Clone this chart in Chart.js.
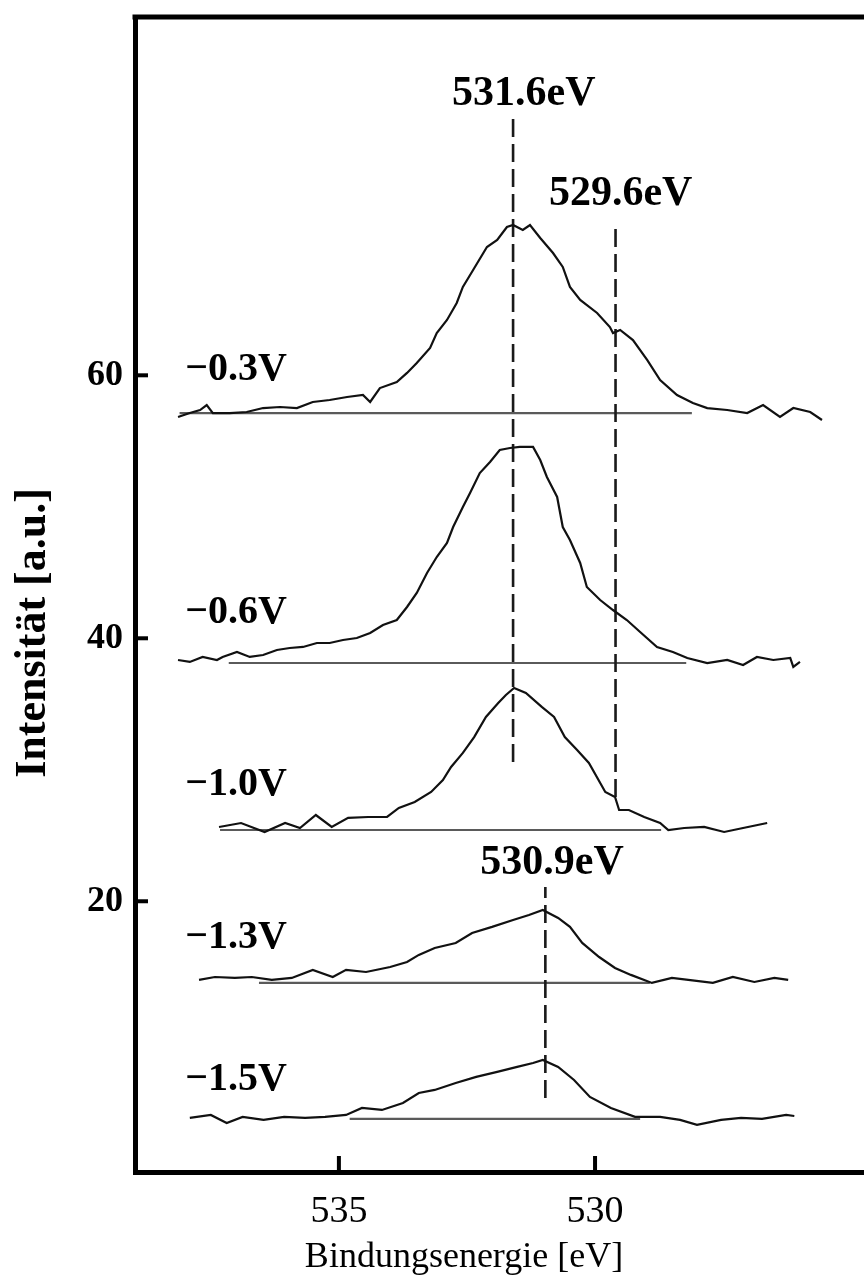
<!DOCTYPE html>
<html><head><meta charset="utf-8">
<script src="https://cdn.jsdelivr.net/npm/chart.js@4.4.1/dist/chart.umd.min.js"></script>
<style>html,body{margin:0;padding:0;background:#fff;overflow:hidden}canvas{display:block}</style>
</head><body>
<canvas id="c" width="864" height="1280"></canvas>
<script>
// ---- data ----
const curveLabels = ["−0.3V", "−0.6V", "−1.0V", "−1.3V", "−1.5V"];

const energyA = [538.14,537.91,537.71,537.58,537.46,537.13,536.80,536.48,536.15,535.82,535.51,535.18,534.84,534.53,534.39,534.20,533.87,533.67,533.48,533.22,533.09,532.89,532.70,532.58,532.38,532.11,531.91,531.72,531.60,531.41,531.27,531.07,530.82,530.63,530.49,530.29,529.96,529.71,529.65,529.51,529.26,528.98,528.73,528.40,528.09,527.81,527.42,527.03,526.72,526.39,526.13,525.80,525.57];
const intensityA = [56.83,57.13,57.36,57.74,57.13,57.13,57.21,57.51,57.59,57.51,57.97,58.12,58.35,58.50,57.97,59.03,59.49,60.18,60.94,62.08,63.22,64.21,65.50,66.72,68.01,69.76,70.29,71.28,71.43,71.05,71.43,70.44,69.30,68.24,66.72,65.73,64.74,63.67,63.22,63.45,62.68,61.16,59.64,58.50,57.89,57.51,57.36,57.13,57.74,56.83,57.51,57.21,56.60];

const energyB = [538.14,537.91,537.66,537.38,537.27,536.99,536.74,536.48,536.21,535.96,535.70,535.43,535.18,534.92,534.65,534.39,534.14,533.87,533.67,533.48,533.28,533.09,532.89,532.77,532.58,532.44,532.25,532.05,531.86,531.66,531.47,531.21,531.07,530.94,530.74,530.63,530.49,530.29,530.16,529.90,529.65,529.38,529.12,528.79,528.48,528.20,527.81,527.42,527.11,526.84,526.52,526.19,526.13,526.00];
const intensityB = [38.35,38.20,38.58,38.35,38.58,38.96,38.58,38.73,39.11,39.26,39.34,39.64,39.64,39.87,40.02,40.40,41.01,41.39,42.38,43.45,44.97,46.18,47.25,48.46,49.99,51.05,52.57,53.41,54.32,54.47,54.55,54.55,53.56,52.27,50.75,48.46,47.48,45.73,43.90,42.91,42.15,41.39,40.48,39.34,38.96,38.50,38.12,38.35,37.97,38.58,38.35,38.50,37.82,38.20];

const energyC = [537.34,536.91,536.45,536.05,535.76,535.45,535.14,534.82,534.43,534.06,533.83,533.52,533.20,532.97,532.81,532.58,532.36,532.13,531.89,531.74,531.58,531.35,531.04,530.80,530.59,530.35,530.12,529.80,529.61,529.53,529.34,529.04,528.73,528.57,528.26,527.87,527.48,527.11,526.64];
const intensityC = [25.65,25.95,25.27,25.95,25.57,26.56,25.65,26.34,26.41,26.41,27.10,27.55,28.31,29.22,30.21,31.28,32.49,34.02,35.08,35.69,36.22,35.84,34.78,34.02,32.49,31.51,30.52,28.31,27.93,26.94,26.94,26.41,25.95,25.42,25.57,25.65,25.27,25.57,25.95];

const energyD = [537.73,537.42,537.03,536.70,536.31,535.92,535.51,535.12,534.86,534.47,534.00,533.67,533.44,533.13,532.72,532.40,532.01,531.60,531.29,531.02,530.72,530.49,530.25,529.92,529.61,529.30,528.89,528.50,528.18,527.70,527.31,526.89,526.50,526.23];
const intensityD = [14.02,14.24,14.17,14.24,14.02,14.17,14.78,14.24,14.78,14.62,15.00,15.38,15.92,16.45,16.83,17.59,18.05,18.58,18.96,19.34,18.73,18.05,16.83,15.76,14.93,14.40,13.79,14.17,14.02,13.79,14.24,13.86,14.17,14.02];

const energyE = [537.91,537.50,537.19,536.88,536.47,536.07,535.66,535.27,534.86,534.55,534.16,533.75,533.44,533.13,532.72,532.32,531.91,531.52,531.21,531.02,530.72,530.41,530.10,529.69,529.22,528.73,528.34,528.01,527.54,527.15,526.74,526.27,526.11];
const intensityE = [3.52,3.75,3.14,3.60,3.37,3.60,3.52,3.60,3.75,4.28,4.13,4.66,5.42,5.65,6.18,6.64,7.02,7.40,7.70,7.93,7.40,6.41,5.12,4.28,3.60,3.60,3.37,2.99,3.37,3.52,3.45,3.75,3.67];

// straight background lines under each peak
const baseStart = [538.11, 537.15, 537.32, 536.56, 534.79];
const baseEnd   = [528.11, 528.22, 528.71, 528.93, 529.12];
const baseLevel = [57.13, 38.12, 25.42, 13.79, 3.45];

// dashed peak markers
const peakLabels = ["531.6eV", "529.6eV", "530.9eV"];
const peakEnergy = [531.6, 529.6, 530.97];
const peakLow    = [30.59, 27.93, 5.04];
const peakHigh   = [79.79, 71.58, 21.09];

// axis ticks
const xTickValues = [535, 530];
const yTickValues = [20, 40, 60];

// ---- build chart ----
const energies = [energyA, energyB, energyC, energyD, energyE];
const intensities = [intensityA, intensityB, intensityC, intensityD, intensityE];

const datasets = [];
baseLevel.forEach((lv, i) => {
  datasets.push({
    data: [{x: baseStart[i], y: lv}, {x: baseEnd[i], y: lv}],
    borderColor: '#5a5a5a', borderWidth: 2.2, showLine: true, pointRadius: 0, order: 3
  });
});
peakEnergy.forEach((e, i) => {
  datasets.push({
    data: [{x: e, y: peakLow[i]}, {x: e, y: peakHigh[i]}],
    borderColor: '#1a1a1a', borderWidth: 2.6, borderDash: [18, 7], showLine: true, pointRadius: 0, order: 2
  });
});
energies.forEach((arr, i) => {
  datasets.push({
    label: curveLabels[i],
    data: arr.map((e, k) => ({x: e, y: intensities[i][k]})),
    borderColor: '#111', borderWidth: 2.2, showLine: true, pointRadius: 0, tension: 0, order: 1
  });
});

const layoutCfg = {
  curveLabelX: 538.0,
  curveLabelY: [60.40, 41.92, 28.84, 17.21, 6.41],
  peakLabelX: [531.39, 529.50, 530.84],
  peakLabelY: [81.35, 73.79, 22.91]
};

const overlay = {
  id: 'overlay',
  afterDraw(chart) {
    const {ctx, chartArea, scales: {x, y}} = chart;
    ctx.save();
    ctx.strokeStyle = '#000';
    ctx.lineWidth = 5;
    ctx.beginPath();
    ctx.moveTo(chartArea.left - 2.5, chartArea.top);
    ctx.lineTo(chartArea.right + 5, chartArea.top);
    ctx.stroke();
    ctx.lineWidth = 4;
    yTickValues.forEach(v => {
      const py = y.getPixelForValue(v);
      ctx.beginPath(); ctx.moveTo(chartArea.left, py); ctx.lineTo(chartArea.left + 13, py); ctx.stroke();
    });
    xTickValues.forEach(v => {
      const px = x.getPixelForValue(v);
      ctx.beginPath(); ctx.moveTo(px, chartArea.bottom); ctx.lineTo(px, chartArea.bottom - 16); ctx.stroke();
    });
    ctx.fillStyle = '#000';
    ctx.textBaseline = 'middle';
    ctx.textAlign = 'left';
    ctx.font = 'bold 40px "Liberation Serif"';
    curveLabels.forEach((t, i) => {
      ctx.fillText(t, x.getPixelForValue(layoutCfg.curveLabelX), y.getPixelForValue(layoutCfg.curveLabelY[i]));
    });
    ctx.textAlign = 'center';
    ctx.font = 'bold 42px "Liberation Serif"';
    peakLabels.forEach((t, i) => {
      ctx.fillText(t, x.getPixelForValue(layoutCfg.peakLabelX[i]), y.getPixelForValue(layoutCfg.peakLabelY[i]));
    });
    // axis titles
    ctx.font = '36px "Liberation Serif"';
    ctx.fillText('Bindungsenergie [eV]', 464, 1258);
    ctx.translate(34, 633);
    ctx.rotate(-Math.PI / 2);
    ctx.font = 'bold 44px "Liberation Serif"';
    ctx.fillText('Intensität [a.u.]', 0, 0);
    ctx.restore();
  }
};

new Chart(document.getElementById('c'), {
  type: 'scatter',
  data: {datasets},
  options: {
    responsive: false,
    animation: false,
    events: [],
    layout: {padding: {top: 17, right: 0, left: 0, bottom: 0}},
    plugins: {legend: {display: false}, tooltip: {enabled: false}},
    scales: {
      x: {
        type: 'linear', reverse: true, min: 524.75, max: 538.98,
        afterFit: s => { s.height = 108; s.paddingLeft = 0; s.paddingRight = 0; },
        afterBuildTicks: s => { s.ticks = xTickValues.map(v => ({value: v})); },
        grid: {display: false, drawTicks: false},
        border: {display: true, width: 5, color: '#000'},
        ticks: {color: '#000', padding: 17, font: {family: 'Liberation Serif', size: 38}, callback: v => String(v)}
      },
      y: {
        type: 'linear', min: -0.59, max: 87.25,
        afterFit: s => { s.width = 135; s.paddingTop = 0; s.paddingBottom = 0; },
        afterBuildTicks: s => { s.ticks = yTickValues.map(v => ({value: v})); },
        grid: {display: false, drawTicks: false},
        border: {display: true, width: 5, color: '#000'},
        ticks: {color: '#000', padding: 12, font: {family: 'Liberation Serif', size: 36, weight: 'bold'}, callback: v => String(v)}
      }
    }
  },
  plugins: [overlay]
});
</script>
</body></html>
